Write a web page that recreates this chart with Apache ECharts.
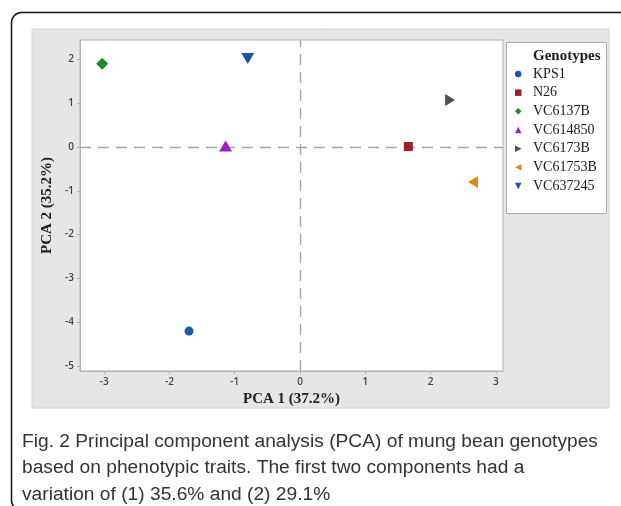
<!DOCTYPE html>
<html>
<head>
<meta charset="utf-8">
<script src="https://cdn.jsdelivr.net/npm/echarts@6/dist/echarts.min.js"></script>
<style>html,body{margin:0;padding:0;background:#fff;}#c{width:621px;height:506px;}</style>
</head>
<body>
<div id="c"></div>
<script>
var genotypes = ['KPS1', 'N26', 'VC6137B', 'VC614850', 'VC6173B', 'VC61753B', 'VC637245'];
var pca1 = [-1.70, 1.66, -3.03, -1.14, 2.30, 2.65, -0.80];
var pca2 = [-4.20, 0.01, 1.90, 0.02, 1.07, -0.80, 2.02];
var colors = ['#1b5ca8', '#a21d1f', '#178a2c', '#9a1fc6', '#4f4f4f', '#e08b10', '#1a54a2'];
var xTicks = [-3, -2, -1, 0, 1, 2, 3];
var yTicks = [-5, -4, -3, -2, -1, 0, 1, 2];
var caption = 'Fig. 2 Principal component analysis (PCA) of mung bean genotypes\nbased on phenotypic traits. The first two components had a\nvariation of (1) 35.6% and (2) 29.1%';

var symbols = ['circle', 'rect', 'diamond', 'triangle',
  'path://M0,0L1,0.5L0,1Z', 'path://M1,0L0,0.5L1,1Z', 'path://M0,0L1,0L0.5,1Z'];
var sizes = [9, 9, [12, 12], [13, 11], [10, 12], [10, 12], [13, 11]];

var chart = echarts.init(document.getElementById('c'), null, {renderer: 'canvas'});
var series = genotypes.map(function (g, i) {
  var s = {
    name: g,
    type: 'scatter',
    symbol: symbols[i],
    symbolSize: sizes[i],
    itemStyle: {color: colors[i], opacity: 1},
    z: 3,
    data: [[pca1[i], pca2[i]]]
  };
  if (i === 0) {
    s.markLine = {
      silent: true,
      symbol: 'none',
      label: {show: false},
      z: 1,
      lineStyle: {color: '#a6a6a6', type: [11, 7], width: 1.4},
      data: [{xAxis: 0}, {yAxis: 0}],
      animation: false
    };
  }
  return s;
});

var axisCommon = {
  type: 'value',
  axisLine: {show: true, onZero: false, lineStyle: {color: '#b2b2b2', width: 1}},
  splitLine: {show: false},
  nameLocation: 'middle',
  nameTextStyle: {fontFamily: 'Liberation Serif', fontWeight: 'bold', fontSize: 15, color: '#222'},
  minInterval: 1,
  maxInterval: 1
};
var tickFont = {fontFamily: 'Open Sans', fontSize: 10, fontWeight: 600, color: '#444'};

var option = {
  animation: false,
  backgroundColor: '#fff',
  graphic: [
    {type: 'rect', z: -10, shape: {x: 32, y: 29, width: 577, height: 379},
      style: {fill: '#e6e6e6', stroke: '#d6d6d6', lineWidth: 1}},
    {type: 'rect', z: 10, shape: {x: 11.5, y: 12.5, width: 650, height: 498, r: 10},
      style: {fill: 'none', stroke: '#111', lineWidth: 1.5}},
    {type: 'rect', z: -5, shape: {x: 506.5, y: 42.5, width: 100, height: 171},
      style: {fill: '#fff', stroke: '#a9a9a9', lineWidth: 1}},
    {type: 'text', z: 5, style: {x: 533, y: 56, text: 'Genotypes', fill: '#1a1a1a',
      font: 'bold 15px "Liberation Serif"', textVerticalAlign: 'middle'}}
  ],
  title: {
    text: caption,
    left: 22,
    top: 428,
    padding: 0,
    textStyle: {fontFamily: 'Liberation Sans', fontSize: 19.2, fontWeight: 'normal', color: '#333', lineHeight: 26.7}
  },
  legend: {
    orient: 'vertical',
    left: 515,
    top: 67,
    padding: 0,
    itemWidth: 6.5,
    itemHeight: 6.5,
    itemGap: 4.67,
    data: genotypes,
    formatter: function (n) { return '{g| }' + n; },
    textStyle: {fontFamily: 'Liberation Serif', fontSize: 14, color: '#1a1a1a', lineHeight: 14,
      rich: {g: {width: 6.5}}}
  },
  grid: {
    left: 80, top: 40, width: 423, height: 331,
    show: true, backgroundColor: '#fff', borderColor: '#b2b2b2', borderWidth: 1
  },
  xAxis: Object.assign({}, axisCommon, {
    min: -3.37, max: 3.11, splitNumber: 6,
    name: 'PCA 1 (37.2%)', nameGap: 21,
    axisTick: {show: true, length: 3, lineStyle: {color: '#b2b2b2'}, customValues: xTicks},
    axisLabel: Object.assign({customValues: xTicks, margin: 6}, tickFont)
  }),
  yAxis: Object.assign({}, axisCommon, {
    min: -5.11, max: 2.44, splitNumber: 7,
    name: 'PCA 2 (35.2%)', nameGap: 23,
    axisTick: {show: true, length: 3, lineStyle: {color: '#b2b2b2'}, customValues: yTicks},
    axisLabel: Object.assign({customValues: yTicks, margin: 6}, tickFont)
  }),
  series: series
};
chart.setOption(option);
</script>
</body>
</html>
